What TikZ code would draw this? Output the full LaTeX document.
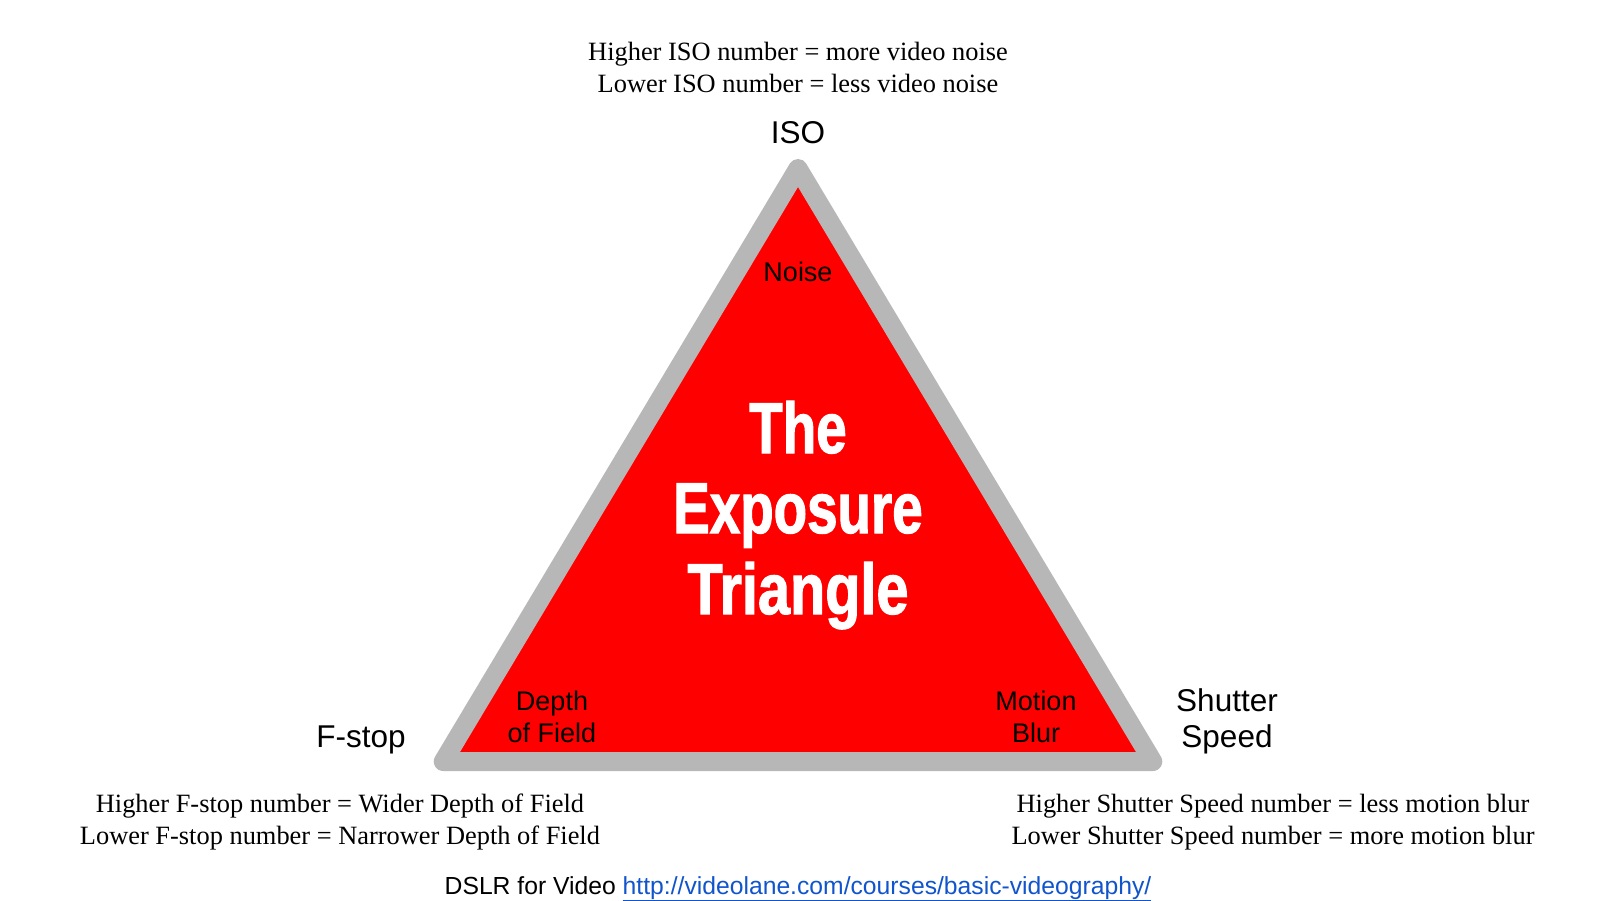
\documentclass[tikz,border=0pt]{standalone}
\usepackage{fontspec}
\setmainfont{Liberation Serif}
\newfontfamily\arialf{Liberation Sans}
\newfontfamily\impactf[FakeStretch=0.76,FakeBold=1.5]{Liberation Sans}
\newfontfamily\impactwf[FakeStretch=0.80,FakeBold=1.5]{Liberation Sans}
\definecolor{triGray}{RGB}{183,183,183}
\definecolor{triRed}{RGB}{255,0,0}
\definecolor{linkBlue}{RGB}{17,85,204}
\tikzset{
  txt/.style={inner sep=0pt, anchor=base, text=black},
  serifnote/.style={txt, font=\fontsize{26.4}{32}\selectfont},
  label/.style={txt, font=\arialf\fontsize{31.5}{36}\selectfont},
  inlabel/.style={txt, font=\arialf\fontsize{27}{31}\selectfont},
  footer/.style={txt, font=\arialf\fontsize{24.7}{30}\selectfont},
  bigtitle/.style={txt, text=white, font=\impactf\bfseries\fontsize{72}{80}\selectfont},
  bigtitlew/.style={txt, text=white, font=\impactwf\bfseries\fontsize{72}{80}\selectfont},
  tri/.style={draw=triGray, fill=triRed, line width=19pt, line join=round}
}
\begin{document}
\begin{tikzpicture}[x=1pt,y=-1pt]
\useasboundingbox[fill=white] (0,0) rectangle (1600,901);
% triangle
\coordinate (top) at (798,168.5);
\coordinate (br) at (1152.75,761.5);
\coordinate (bl) at (443.25,761.5);
\draw[tri] (top) -- (br) -- (bl) -- cycle;
% top notes
\node[serifnote] (isoA) at (798,61) {Higher ISO number = more video noise};
\node[serifnote] (isoB) at (798,93) {Lower ISO number = less video noise};
\node[label] (iso) at (798,144) {ISO};
\node[inlabel] (noise) at (798,281) {Noise};
% title
\node[bigtitle] (t1) at (798,453) {The};
\node[bigtitle] (t2) at (798,533) {Exposure};
\node[bigtitlew] (t3) at (798,614) {Triangle};
% corners
\node[inlabel] (dofA) at (552,710) {Depth};
\node[inlabel] (dofB) at (552,742) {of Field};
\node[inlabel] (mbA) at (1036,710) {Motion};
\node[inlabel] (mbB) at (1036,742) {Blur};
\node[label] (fstop) at (361,747) {F-stop};
\node[label] (shA) at (1227,711) {Shutter};
\node[label] (shB) at (1227,747) {Speed};
% bottom notes
\node[serifnote] (fA) at (340,812) {Higher F-stop number = Wider Depth of Field};
\node[serifnote] (fB) at (340,844) {Lower F-stop number = Narrower Depth of Field};
\node[serifnote] (sA) at (1273,812) {Higher Shutter Speed number = less motion blur};
\node[serifnote] (sB) at (1273,844) {Lower Shutter Speed number = more motion blur};
\node[footer] (dslr) at (798,894) {DSLR for Video {\color{linkBlue}\underline{http://videolane.com/courses/basic-videography/}}};
\end{tikzpicture}
\end{document}
